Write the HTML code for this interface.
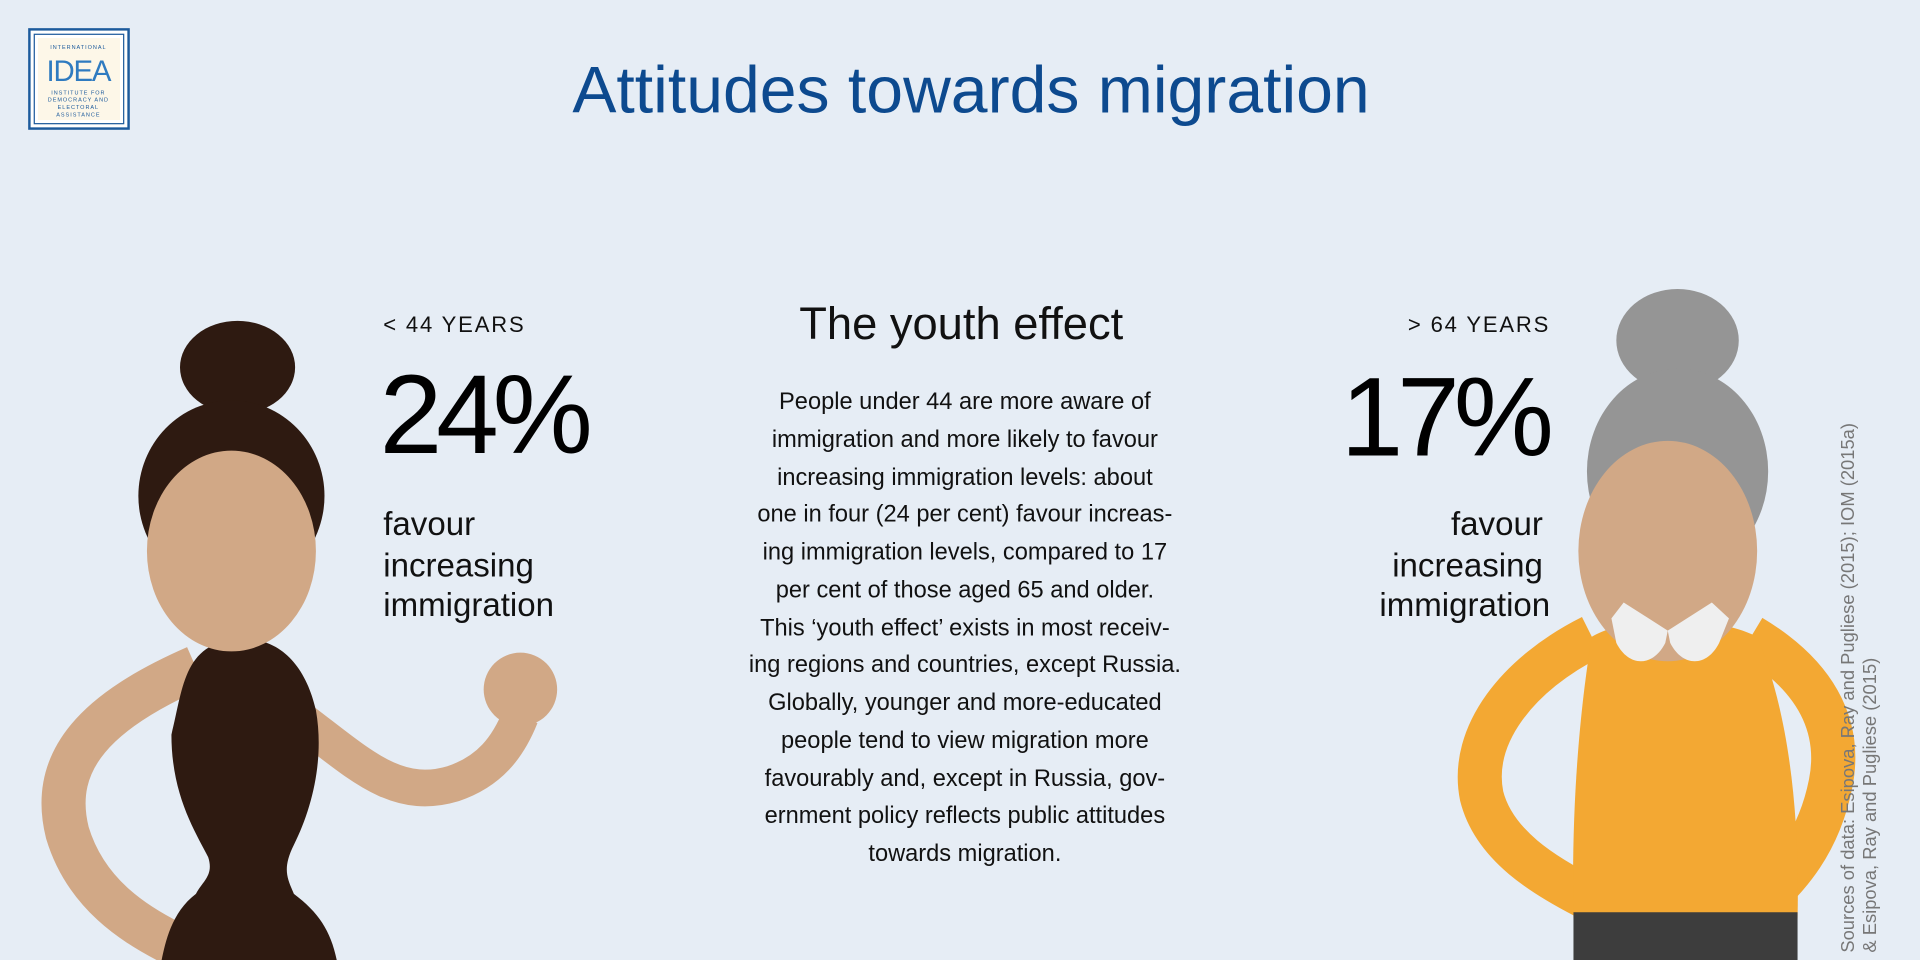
<!DOCTYPE html>
<html><head><meta charset="utf-8"><style>
html,body{margin:0;padding:0;background:#e6edf5;}
svg{display:block;}
text{font-family:"Liberation Sans",sans-serif;}
</style></head><body>
<svg width="1920" height="960" viewBox="0 0 1568 784" xmlns="http://www.w3.org/2000/svg">
<rect width="1568" height="784" fill="#e6edf5"/>
<g>
<rect x="24" y="24" width="81" height="81" fill="#fff" stroke="#1c5a9c" stroke-width="2"/>
<rect x="28" y="28" width="73" height="73" fill="none" stroke="#1c5a9c" stroke-width="1"/>
<rect x="31" y="31" width="67" height="67" fill="#fdf7e8"/>
<text x="64" y="40" font-size="4.5" fill="#1c5a9c" text-anchor="middle" letter-spacing="0.8">INTERNATIONAL</text>
<text x="64" y="66" font-size="24" fill="#2f7bc0" text-anchor="middle" font-family="Liberation Serif,serif" letter-spacing="-1">IDEA</text>
<text x="64" y="77" font-size="4.5" fill="#1c5a9c" text-anchor="middle" letter-spacing="0.8">INSTITUTE FOR</text>
<text x="64" y="83" font-size="4.5" fill="#1c5a9c" text-anchor="middle" letter-spacing="0.8">DEMOCRACY AND</text>
<text x="64" y="89" font-size="4.5" fill="#1c5a9c" text-anchor="middle" letter-spacing="0.8">ELECTORAL</text>
<text x="64" y="95" font-size="4.5" fill="#1c5a9c" text-anchor="middle" letter-spacing="0.8">ASSISTANCE</text>
</g>
<text x="793" y="92" font-size="54" fill="#0d4a8f" text-anchor="middle">Attitudes towards migration</text>

<g>
<path d="M160,545 C80,580 40,620 55,680 C70,730 110,755 140,770" fill="none" stroke="#d1a886" stroke-width="36"/>
<path d="M235,580 C290,620 320,655 370,640 C400,630 415,610 425,585" fill="none" stroke="#d1a886" stroke-width="30"/>
<circle cx="425" cy="563" r="30" fill="#d1a886"/>
<path d="M200,522 C150,522 150,560 140,600 C140,650 160,680 170,700 C175,715 165,720 160,730 C140,745 135,770 132,784 L275,784 C270,760 260,745 240,730 C235,718 230,710 240,690 C255,660 265,620 258,580 C250,545 230,522 200,522 Z" fill="#2e1a11"/>
<ellipse cx="194" cy="300" rx="47" ry="38" fill="#2e1a11"/>
<ellipse cx="189" cy="405" rx="76" ry="78" fill="#2e1a11"/>
<ellipse cx="189" cy="450" rx="69" ry="82" fill="#d1a886"/>
</g>
<text x="313" y="271" font-size="18" fill="#111" letter-spacing="1.5">&lt; 44 YEARS</text>
<text x="310" y="370" font-size="92" fill="#000" letter-spacing="-5">24%</text>
<g font-size="27" fill="#111">
<text x="313" y="437">favour</text>
<text x="313" y="471">increasing</text>
<text x="313" y="503">immigration</text>
</g>

<text x="785" y="277" font-size="37" fill="#111" text-anchor="middle">The youth effect</text>
<g font-size="19.3" fill="#111" text-anchor="middle">
<text x="788" y="334">People under 44 are more aware of</text>
<text x="788" y="365">immigration and more likely to favour</text>
<text x="788" y="396">increasing immigration levels: about</text>
<text x="788" y="426">one in four (24 per cent) favour increas-</text>
<text x="788" y="457">ing immigration levels, compared to 17</text>
<text x="788" y="488">per cent of those aged 65 and older.</text>
<text x="788" y="519">This ‘youth effect’ exists in most receiv-</text>
<text x="788" y="549">ing regions and countries, except Russia.</text>
<text x="788" y="580">Globally, younger and more-educated</text>
<text x="788" y="611">people tend to view migration more</text>
<text x="788" y="642">favourably and, except in Russia, gov-</text>
<text x="788" y="672">ernment policy reflects public attitudes</text>
<text x="788" y="703">towards migration.</text>
</g>

<g>
<path d="M1300,520 C1240,550 1200,600 1210,650 C1220,690 1260,715 1300,735" fill="none" stroke="#f3a833" stroke-width="36"/>
<path d="M1430,520 C1480,550 1505,590 1495,640 C1485,690 1460,715 1440,735" fill="none" stroke="#f3a833" stroke-width="36"/>
<path d="M1300,520 C1330,502 1400,502 1435,520 C1460,580 1470,660 1468,750 L1285,750 C1283,660 1290,580 1300,520 Z" fill="#f3a833"/>
<rect x="1285" y="745" width="183" height="39" fill="#3d3d3d"/>
<ellipse cx="1370" cy="278" rx="50" ry="42" fill="#959595"/>
<ellipse cx="1370" cy="385" rx="74" ry="84" fill="#959595"/>
<ellipse cx="1362" cy="450" rx="73" ry="90" fill="#d1a886"/>
<path d="M1326,492 L1362,515 L1360,525 C1350,545 1330,545 1320,525 L1316,505 Z" fill="#efefef"/>
<path d="M1398,492 L1362,515 L1364,525 C1374,545 1394,545 1404,525 L1412,505 Z" fill="#efefef"/>
</g>
<text x="1266" y="271" font-size="18" fill="#111" letter-spacing="1.5" text-anchor="end">&gt; 64 YEARS</text>
<text x="1264" y="372" font-size="92" fill="#000" letter-spacing="-5" text-anchor="end">17%</text>
<g font-size="27" fill="#111" text-anchor="end">
<text x="1260" y="437">favour</text>
<text x="1260" y="471">increasing</text>
<text x="1266" y="503">immigration</text>
</g>
<g font-size="15" fill="#777">
<text transform="translate(1514,778) rotate(-90)">Sources of data:  Esipova, Ray and Pugliese (2015); IOM (2015a)</text>
<text transform="translate(1532,778) rotate(-90)">&amp; Esipova, Ray and Pugliese (2015)</text>
</g>
</svg>
</body></html>
